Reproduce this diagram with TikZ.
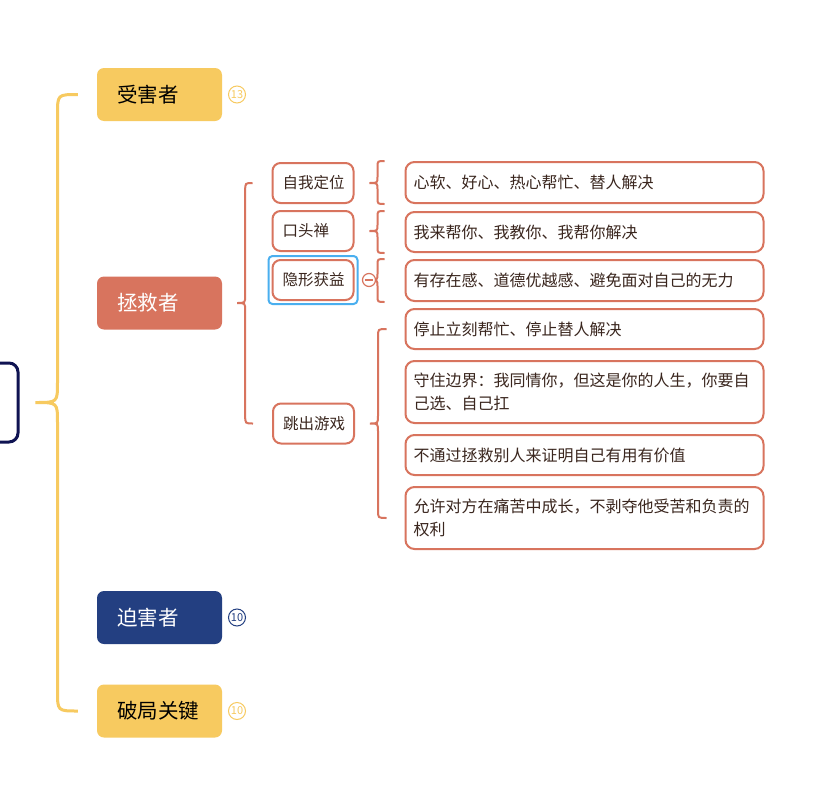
\documentclass[tikz,border=0pt]{standalone}
\usepackage{fontspec}
\setmainfont{Noto Sans CJK SC}
\usetikzlibrary{calc,fit}
\definecolor{myyellow}{HTML}{F7CA60}
\definecolor{salmon}{HTML}{D8745E}
\definecolor{navy}{HTML}{233F81}
\definecolor{rootc}{HTML}{0F1352}
\definecolor{selblue}{HTML}{4AAFEF}
\definecolor{txt}{HTML}{3A261E}
\newcommand\mmbrace[8]{%
  \draw[#1] let \p0=($(#2.east)+(#5,0)$), \p1=($(#3)-(#7,0)$), \p2=($(#4)-(#7,0)$) in
  (\x1,\y1) .. controls (\x0+#6,\y1) .. (\x0+#6,\y1-#8)
  -- (\x0+#6,\y0+#8) .. controls (\x0+#6,\y0) .. (\x0,\y0)
  .. controls (\x0+#6,\y0) .. (\x0+#6,\y0-#8)
  -- (\x0+#6,\y2+#8) .. controls (\x0+#6,\y2) .. (\x2,\y2);}
\begin{document}
\begin{tikzpicture}[x=1pt,y=-1pt,
  l1/.style={rounded corners=7pt, minimum width=125pt, minimum height=53pt, text width=85pt,
    inner xsep=20pt, inner ysep=0pt, align=left, font=\fontsize{20.5}{24}\selectfont},
  l2/.style={draw=salmon, line width=2pt, fill=white, rounded corners=8pt, minimum height=40pt,
    text width=61pt, inner xsep=10pt, inner ysep=0pt, align=left, font=\fontsize{15.5}{20}\selectfont, text=txt},
  l3/.style={draw=salmon, line width=2pt, fill=white, rounded corners=9pt, text width=342pt,
    inner xsep=8pt, inner ysep=0pt, align=left, font=\fontsize{16}{23}\selectfont, text=txt},
  badge/.style={circle, line width=1pt, minimum size=17pt, inner sep=0pt, font=\fontsize{11}{11}\selectfont},
  ybrace/.style={draw=myyellow, line width=3pt},
  sbrace/.style={draw=salmon, line width=2pt}]
\useasboundingbox (0,0) rectangle (828,798);
\clip (0,0) rectangle (828,798);
\fill[white] (0,0) rectangle (828,798);
% root
\node[draw=rootc, line width=3pt, rounded corners=9pt, minimum width=116pt, minimum height=79pt, fill=white] (root) at (-40,402.5) {};
% level 1
\node[l1, fill=myyellow, text=black] (v) at (159.5,94.5) {受害者};
\node[l1, fill=salmon, text=white] (zj) at (159.5,303) {拯救者};
\node[l1, fill=navy, text=white] (ph) at (159.5,617.5) {迫害者};
\node[l1, fill=myyellow, text=black] (pj) at (159.5,711) {破局关键};
\node[badge, draw=myyellow, text=myyellow] (bv) at (237,94.5) {13};
\node[badge, draw=navy, text=navy] (bph) at (237,617.5) {10};
\node[badge, draw=myyellow, text=myyellow] (bpj) at (237,711) {10};
% level 2
\node[l2] (zw) at (313,183) {自我定位};
\node[l2] (kt) at (313,231) {口头禅};
\node[l2] (ys) at (313,280) {隐形获益};
\node[l2] (tc) at (313.5,423.5) {跳出游戏};
\node[draw=selblue, line width=2pt, rounded corners=4pt, fit=(ys), inner sep=3pt] (sel) {};
% level 3
\node[l3, minimum height=41pt] (b1) at (584.5,182.5) {心软、好心、热心帮忙、替人解决};
\node[l3, minimum height=40pt] (b2) at (584.5,232) {我来帮你、我教你、我帮你解决};
\node[l3, minimum height=41pt] (b3) at (584.5,280.5) {有存在感、道德优越感、避免面对自己的无力};
\node[l3, minimum height=40pt] (b4) at (584.5,329) {停止立刻帮忙、停止替人解决};
\node[l3, minimum height=62pt] (b5) at (584.5,392) {守住边界：我同情你，但这是你的人生，你要自\\己选、自己扛};
\node[l3, minimum height=40pt] (b6) at (584.5,455) {不通过拯救别人来证明自己有用有价值};
\node[l3, minimum height=62pt] (b7) at (584.5,518) {允许对方在痛苦中成长，不剥夺他受苦和负责的\\权利};
% braces
\mmbrace{ybrace}{root}{v.west}{pj.west}{16pt}{22pt}{19pt}{20pt}
\mmbrace{sbrace}{zj}{zw.west}{tc.west}{15pt}{8pt}{19pt}{8pt}
\mmbrace{sbrace}{zw}{b1.north west}{b1.south west}{15pt}{8pt}{20pt}{6pt}
\mmbrace{sbrace}{kt}{b2.north west}{b2.south west}{15pt}{8pt}{20pt}{6pt}
\mmbrace{sbrace}{ys}{b3.north west}{b3.south west}{15pt}{8pt}{20pt}{6pt}
\mmbrace{sbrace}{tc}{b4.west}{b7.west}{15pt}{8pt}{18pt}{8pt}
% collapse marker
\node[circle, draw=salmon, line width=1.2pt, fill=white, minimum size=13pt, inner sep=0pt] (col) at (369,280) {};
\draw[salmon, line width=1.2pt] ($(col.west)+(3pt,0)$) -- ($(col.east)-(3pt,0)$);
\end{tikzpicture}
\end{document}
